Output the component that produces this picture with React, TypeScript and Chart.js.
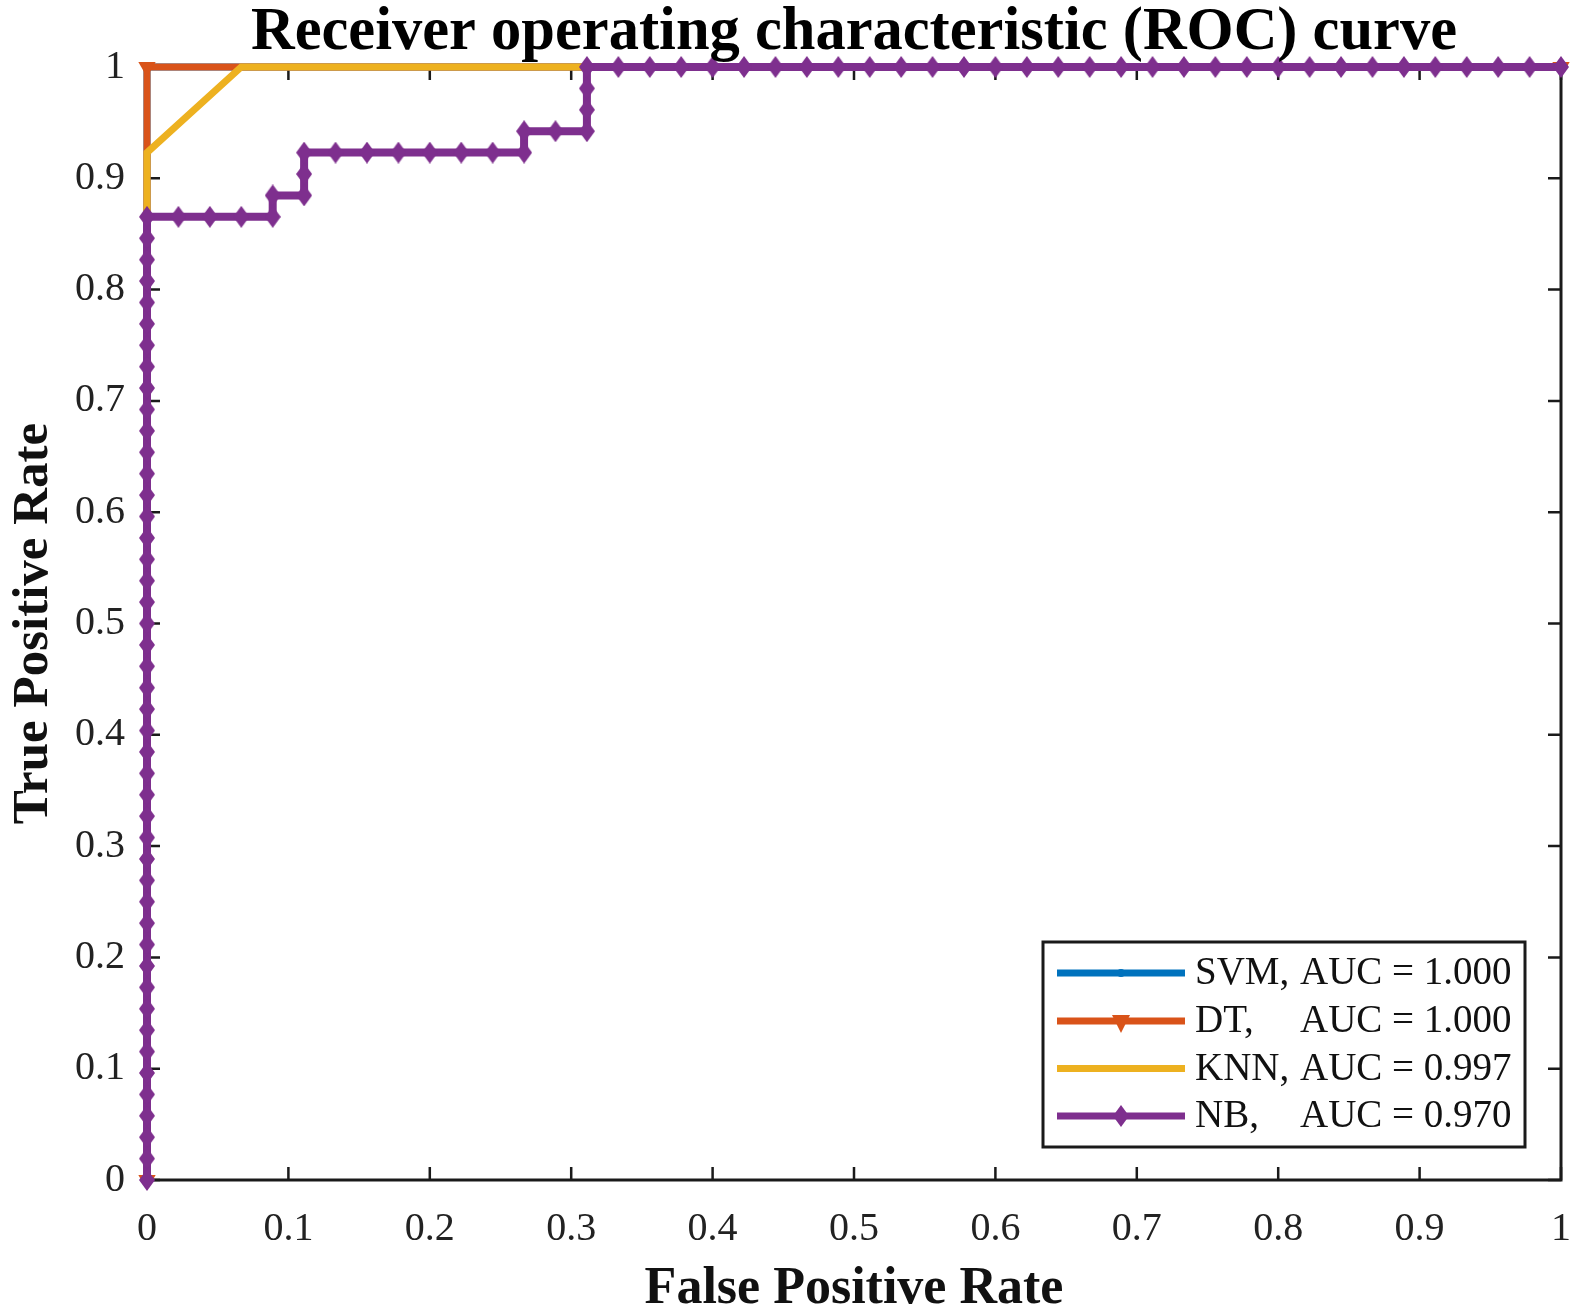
import React, { useEffect, useRef } from 'react';
import { Chart, registerables } from 'chart.js';

Chart.register(...registerables);

// ---------------- data ----------------
const TITLE = 'Receiver operating characteristic (ROC) curve';
const X_TITLE = 'False Positive Rate';
const Y_TITLE = 'True Positive Rate';

const SERIES_NAMES = ['SVM,', 'DT,', 'KNN,', 'NB,'];
const AUC_LABELS = ['AUC = 1.000', 'AUC = 1.000', 'AUC = 0.997', 'AUC = 0.970'];
const COLORS = ['#0072BD', '#D95319', '#EDB120', '#7E2F8E'];

const X_TICK_LABELS = ['0', '0.1', '0.2', '0.3', '0.4', '0.5', '0.6', '0.7', '0.8', '0.9', '1'];
const Y_TICK_LABELS = ['0', '0.1', '0.2', '0.3', '0.4', '0.5', '0.6', '0.7', '0.8', '0.9', '1'];

// counts of negatives / positives in the test set
const N_NEG = 45;
const N_POS = 52;

// ROC points as (false-positive count, true-positive count)
const svmFP = [0, 0, 45];
const svmTP = [0, 52, 52];

const dtFP = [0, 0, 45];
const dtTP = [0, 52, 52];

const knnFP = [0, 0, 3, 45];
const knnTP = [0, 48, 52, 52];

const nbFP = [
  0, 0, 0, 0, 0, 0, 0, 0, 0, 0,
  0, 0, 0, 0, 0, 0, 0, 0, 0, 0,
  0, 0, 0, 0, 0, 0, 0, 0, 0, 0,
  0, 0, 0, 0, 0, 0, 0, 0, 0, 0,
  0, 0, 0, 0, 0, 0,
  1, 2, 3, 4, 4, 5, 5, 5, 6, 7, 8, 9, 10, 11, 12, 12, 13, 14, 14, 14, 14,
  15, 16, 17, 18, 19, 20, 21, 22, 23, 24, 25, 26, 27, 28, 29, 30,
  31, 32, 33, 34, 35, 36, 37, 38, 39, 40, 41, 42, 43, 44, 45,
];
const nbTP = [
  0, 1, 2, 3, 4, 5, 6, 7, 8, 9,
  10, 11, 12, 13, 14, 15, 16, 17, 18, 19,
  20, 21, 22, 23, 24, 25, 26, 27, 28, 29,
  30, 31, 32, 33, 34, 35, 36, 37, 38, 39,
  40, 41, 42, 43, 44, 45,
  45, 45, 45, 45, 46, 46, 47, 48, 48, 48, 48, 48, 48, 48, 48, 49, 49, 49, 50, 51, 52,
  52, 52, 52, 52, 52, 52, 52, 52, 52, 52, 52, 52, 52, 52, 52, 52,
  52, 52, 52, 52, 52, 52, 52, 52, 52, 52, 52, 52, 52, 52, 52,
];

// ---------------- helpers ----------------
const FONT = "'Liberation Serif', 'Times New Roman', Times, serif";
const DIAMOND_W = 16;
const DIAMOND_H = 22;

function toPoints(fp: number[], tp: number[]) {
  return fp.map((f, i) => ({ x: f / N_NEG, y: tp[i] / N_POS }));
}

function diamondPath(ctx: CanvasRenderingContext2D, cx: number, cy: number, w: number, h: number) {
  ctx.beginPath();
  ctx.moveTo(cx, cy - h / 2);
  ctx.lineTo(cx + w / 2, cy);
  ctx.lineTo(cx, cy + h / 2);
  ctx.lineTo(cx - w / 2, cy);
  ctx.closePath();
}

function makeDiamond(color: string) {
  const c = document.createElement('canvas');
  c.width = DIAMOND_W;
  c.height = DIAMOND_H;
  const g = c.getContext('2d')!;
  g.fillStyle = color;
  diamondPath(g, DIAMOND_W / 2, DIAMOND_H / 2, DIAMOND_W, DIAMOND_H);
  g.fill();
  return c;
}

const framePlugin = {
  id: 'matlabFrame',
  beforeDatasetsDraw(chart: any) {
    const { ctx, chartArea } = chart;
    const { left, right, top, bottom } = chartArea;
    const xs = chart.scales.x;
    const ys = chart.scales.y;
    ctx.save();
    ctx.strokeStyle = '#1a1a1a';
    ctx.lineWidth = 3;
    ctx.strokeRect(left, top, right - left, bottom - top);
    ctx.lineWidth = 2.5;
    const tl = 13;
    xs.ticks.forEach((t: any) => {
      const px = xs.getPixelForValue(t.value);
      ctx.beginPath();
      ctx.moveTo(px, bottom);
      ctx.lineTo(px, bottom - tl);
      ctx.moveTo(px, top);
      ctx.lineTo(px, top + tl);
      ctx.stroke();
    });
    ys.ticks.forEach((t: any) => {
      const py = ys.getPixelForValue(t.value);
      ctx.beginPath();
      ctx.moveTo(left, py);
      ctx.lineTo(left + tl, py);
      ctx.moveTo(right, py);
      ctx.lineTo(right - tl, py);
      ctx.stroke();
    });
    ctx.restore();
  },
};

const titlePlugin = {
  id: 'matlabTitle',
  afterDraw(chart: any) {
    const { ctx, chartArea } = chart;
    ctx.save();
    ctx.font = `bold 60.5px ${FONT}`;
    ctx.fillStyle = '#000';
    ctx.textAlign = 'center';
    ctx.textBaseline = 'alphabetic';
    ctx.fillText(TITLE, (chartArea.left + chartArea.right) / 2, 49);
    ctx.restore();
  },
};

const legendPlugin = {
  id: 'matlabLegend',
  afterDatasetsDraw(chart: any) {
    const { ctx } = chart;
    const boxL = 1043;
    const boxT = 942;
    const boxR = 1525;
    const boxB = 1147;
    ctx.save();
    ctx.fillStyle = '#fff';
    ctx.fillRect(boxL, boxT, boxR - boxL, boxB - boxT);
    ctx.strokeStyle = '#1a1a1a';
    ctx.lineWidth = 3;
    ctx.strokeRect(boxL, boxT, boxR - boxL, boxB - boxT);
    const rowY = [973, 1021, 1068.5, 1116];
    const lineL = 1057;
    const lineR = 1185;
    const mx = 1121;
    SERIES_NAMES.forEach((name, i) => {
      const y = rowY[i];
      ctx.strokeStyle = COLORS[i];
      ctx.lineWidth = 7;
      ctx.beginPath();
      ctx.moveTo(lineL, y);
      ctx.lineTo(lineR, y);
      ctx.stroke();
      ctx.fillStyle = COLORS[i];
      if (i === 0) {
        ctx.beginPath();
        ctx.arc(mx, y, 4, 0, Math.PI * 2);
        ctx.fill();
      } else if (i === 1) {
        ctx.beginPath();
        ctx.moveTo(mx - 9, y - 6);
        ctx.lineTo(mx + 9, y - 6);
        ctx.lineTo(mx, y + 12);
        ctx.closePath();
        ctx.fill();
      } else if (i === 3) {
        diamondPath(ctx, mx, y, DIAMOND_W, DIAMOND_H);
        ctx.fill();
      }
      ctx.fillStyle = '#111';
      ctx.font = `39px ${FONT}`;
      ctx.textAlign = 'left';
      ctx.textBaseline = 'middle';
      ctx.fillText(name, 1195, y + 1);
      ctx.fillText(AUC_LABELS[i], 1300, y + 1);
    });
    ctx.restore();
  },
};

export default function App() {
  const canvasRef = useRef<HTMLCanvasElement | null>(null);

  useEffect(() => {
    document.body.style.margin = '0';
    const canvas = canvasRef.current;
    if (!canvas) return;

    const common = {
      showLine: true,
      fill: false,
      tension: 0,
      clip: false as any,
      borderCapStyle: 'butt' as const,
      borderJoinStyle: 'miter' as const,
    };

    const nbMarker = makeDiamond(COLORS[3]);

    const chart = new Chart(canvas, {
      type: 'scatter',
      data: {
        datasets: [
          {
            ...common,
            label: SERIES_NAMES[0],
            data: toPoints(svmFP, svmTP),
            borderColor: COLORS[0],
            backgroundColor: COLORS[0],
            borderWidth: 7,
            pointStyle: 'circle',
            pointRadius: 3,
            pointBorderWidth: 0,
            order: 4,
          },
          {
            ...common,
            label: SERIES_NAMES[1],
            data: toPoints(dtFP, dtTP),
            borderColor: COLORS[1],
            backgroundColor: COLORS[1],
            borderWidth: 7,
            pointStyle: 'triangle',
            pointRotation: 180,
            pointRadius: 10,
            pointBorderWidth: 0,
            order: 3,
          },
          {
            ...common,
            label: SERIES_NAMES[2],
            data: toPoints(knnFP, knnTP),
            borderColor: COLORS[2],
            backgroundColor: COLORS[2],
            borderWidth: 7,
            pointRadius: 0,
            order: 2,
          },
          {
            ...common,
            label: SERIES_NAMES[3],
            data: toPoints(nbFP, nbTP),
            borderColor: COLORS[3],
            backgroundColor: COLORS[3],
            borderWidth: 8,
            pointStyle: nbMarker as any,
            pointRadius: 8,
            pointBorderWidth: 0,
            order: 1,
          },
        ],
      },
      options: {
        animation: false,
        responsive: false,
        devicePixelRatio: 1,
        layout: { padding: { left: 0, top: 67, right: 24, bottom: 0 } },
        plugins: {
          legend: { display: false },
          tooltip: { enabled: false },
          title: { display: false },
        },
        scales: {
          x: {
            type: 'linear',
            min: 0,
            max: 1,
            grid: { display: false, drawTicks: false },
            border: { display: false },
            ticks: {
              stepSize: 0.1,
              autoSkip: false,
              maxRotation: 0,
              padding: 25,
              color: '#222',
              font: { family: FONT, size: 40 },
              callback: (_v: any, i: number) => X_TICK_LABELS[i],
            },
            title: {
              display: true,
              text: X_TITLE,
              color: '#111',
              font: { family: FONT, size: 52, weight: 'bold', lineHeight: 0.7 },
              padding: 0,
            },
            afterFit: (s: any) => {
              s.height = 128;
              s.paddingLeft = 0;
              s.paddingRight = 0;
            },
          },
          y: {
            type: 'linear',
            min: 0,
            max: 1,
            grid: { display: false, drawTicks: false },
            border: { display: false },
            ticks: {
              stepSize: 0.1,
              autoSkip: false,
              padding: 22,
              color: '#222',
              font: { family: FONT, size: 40 },
              callback: (_v: any, i: number) => Y_TICK_LABELS[i],
            },
            title: {
              display: true,
              text: Y_TITLE,
              color: '#111',
              font: { family: FONT, size: 51, weight: 'bold', lineHeight: 1 },
              padding: { top: 8, bottom: 0 },
            },
            afterFit: (s: any) => {
              s.width = 147;
              s.paddingTop = 0;
              s.paddingBottom = 0;
            },
          },
        },
      } as any,
      plugins: [framePlugin, titlePlugin, legendPlugin],
    });

    return () => {
      chart.destroy();
    };
  }, []);

  return (
    <canvas
      ref={canvasRef}
      width={1585}
      height={1308}
      style={{ display: 'block', width: '1585px', height: '1308px' }}
    />
  );
}
